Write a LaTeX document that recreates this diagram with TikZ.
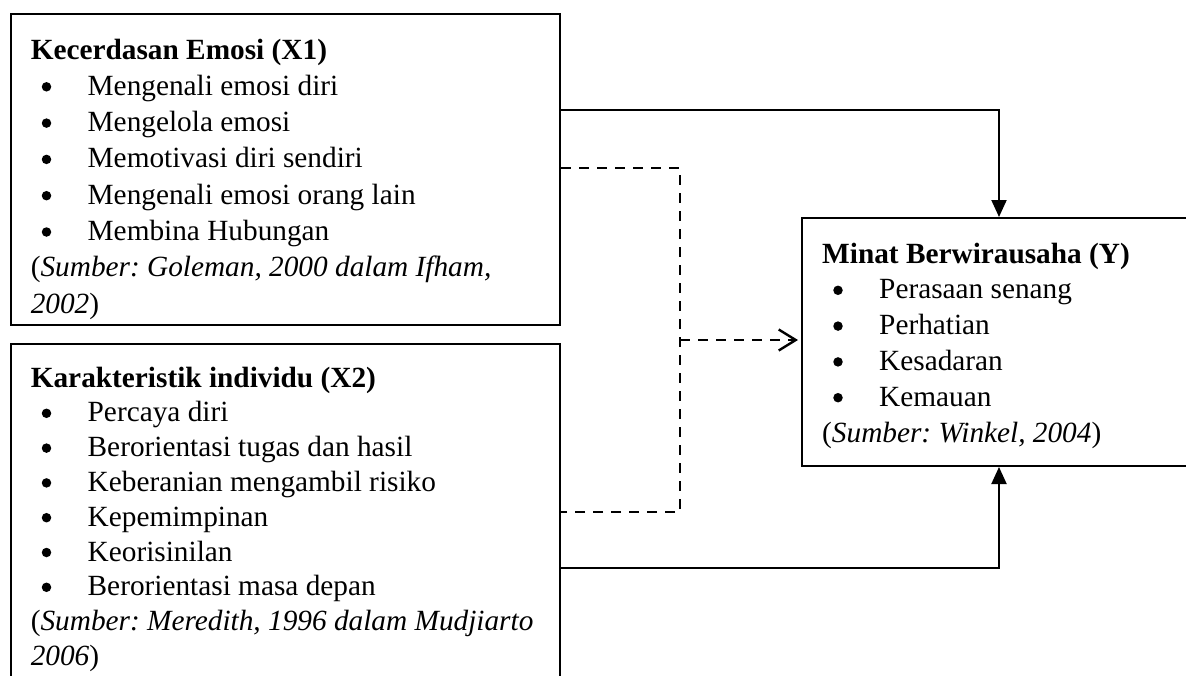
\documentclass[tikz,border=0pt]{standalone}
\usepackage{fontspec}
\setmainfont{Liberation Serif}
\usetikzlibrary{arrows.meta}
\newcommand\diagfs{\fontsize{29.3pt}{35pt}\selectfont\frenchspacing}
\begin{document}
\begin{tikzpicture}[x=1pt,y=-1pt,
  box/.style={draw, line width=2pt, inner sep=0pt, anchor=north west},
  ttl/.style={anchor=base west, inner sep=0pt, font=\diagfs\bfseries},
  itm/.style={anchor=base west, inner sep=0pt, font=\diagfs},
  bul/.style={circle, fill, inner sep=0pt, minimum size=9.5pt},
  solidarrow/.style={line width=2pt, -{Triangle[length=17pt,width=15pt]}},
  dashline/.style={line width=2.6pt, dash pattern=on 10pt off 8pt},
  dasharrow/.style={dashline, shorten >=3pt, -{Straight Barb[length=17pt,width=21pt,line width=2.4pt]}}]
\clip (0,0) rectangle (1186,675);
\fill[white] (0,0) rectangle (1186,675);
% boxes
\node[box, minimum width=549.5pt, minimum height=310.5pt] (x1) at (9.5,13) {};
\node[box, minimum width=549.5pt, minimum height=400pt] (x2) at (9.5,343) {};
\node[box, minimum width=450pt, minimum height=248pt] (yb) at (801,217) {};
% box X1 text
\node[ttl] (x1t) at (30.6,59) {Kecerdasan Emosi (X1)};
\foreach [count=\i] \t in {Mengenali emosi diri, Mengelola emosi, Memotivasi diri sendiri, Mengenali emosi orang lain, Membina Hubungan}{
  \node[bul] (x1b\i) at (46.5,{59+\i*36.3-8.5}) {};
  \node[itm] (x1i\i) at (87.5,{59+\i*36.3}) {\t};
}
\node[itm] (x1s1) at (30.6,{59+6*36.3}) {(\textit{Sumber: Goleman, 2000 dalam Ifham,}};
\node[itm] (x1s2) at (30.6,{59+7*36.3}) {\textit{2002})};
% box X2 text
\node[ttl] (x2t) at (30.6,387) {Karakteristik individu (X2)};
\foreach [count=\i] \t in {Percaya diri, Berorientasi tugas dan hasil, Keberanian mengambil risiko, Kepemimpinan, Keorisinilan, Berorientasi masa depan}{
  \node[bul] (x2b\i) at (46.5,{387+\i*34.8-8.5}) {};
  \node[itm] (x2i\i) at (87.5,{387+\i*34.8}) {\t};
}
\node[itm] (x2s1) at (30.6,{387+7*34.8}) {(\textit{Sumber: Meredith, 1996 dalam Mudjiarto}};
\node[itm] (x2s2) at (30.6,{387+8*34.8}) {\textit{2006})};
% box Y text
\node[ttl] (ybt) at (822,263) {Minat Berwirausaha (Y)};
\foreach [count=\i] \t in {Perasaan senang, Perhatian, Kesadaran, Kemauan}{
  \node[bul] (ybb\i) at (838,{263+\i*35.8-8.5}) {};
  \node[itm] (ybi\i) at (879,{263+\i*35.8}) {\t};
}
\node[itm] (ybs) at (822,{263+5*35.8}) {(\textit{Sumber: Winkel, 2004})};
% connectors
\coordinate (c1) at (999,110);
\coordinate (c2) at (999,568);
\coordinate (d1) at (680,168);
\coordinate (d2) at (680,512);
\coordinate (dm) at (680,340);
\draw[solidarrow] (x1.east |- c1) -- (c1) -- (yb.north -| c1);
\draw[solidarrow] (x2.east |- c2) -- (c2) -- (yb.south -| c2);
\draw[dashline] (x1.east |- d1) -- (d1) -- (d2) -- (x2.east |- d2);
\draw[dasharrow] (dm) -- (yb.west |- dm);
\end{tikzpicture}
\end{document}
